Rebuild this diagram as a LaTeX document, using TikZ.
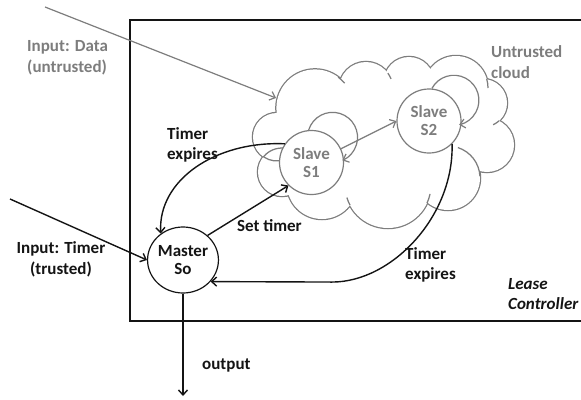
\documentclass[tikz,border=0pt]{standalone}
\usepackage{fontspec}
\setmainfont{Carlito}
\usetikzlibrary{shapes.geometric,arrows.meta}
\definecolor{cgray}{RGB}{125,125,125}
\definecolor{ink}{RGB}{20,20,20}
\begin{document}
\begin{tikzpicture}[x=1pt,y=-1pt,
  lbl/.style={font=\fontsize{17}{20.5}\selectfont\bfseries, inner sep=0pt, align=left, anchor=west, text=ink},
  glbl/.style={lbl, text=cgray},
  state/.style={circle, draw=cgray, fill=white, line width=1.2pt, text=cgray,
    minimum size=64pt, inner sep=0pt, align=center, font=\fontsize{17}{18}\selectfont\bfseries},
  master/.style={ellipse, draw=ink, fill=white, line width=1.2pt, text=ink,
    minimum width=58pt, minimum height=66pt, inner sep=0pt, align=center, font=\fontsize{17}{18}\selectfont\bfseries},
  puffline/.style={draw=cgray, line width=2.5pt},
  hook/.style={draw=cgray, line width=1.25pt},
  blk/.style={draw=ink, line width=1.4pt, -{Straight Barb[length=5pt,width=9pt]}},
  gry/.style={draw=cgray, line width=1.2pt, -{Straight Barb[length=5pt,width=9pt]}}
]
\useasboundingbox (0,0) rectangle (581,399);
% lease controller box
\draw[ink, line width=1.6pt] (590,20) -- (130,20) -- (130,321) -- (590,321);
% cloud: union of puffs
\def\puffs{315/108/38.6, 366/89/27, 409/82/25, 456/88/32, 483/103/24, 487/145/27,
  448/178/32, 388/185/43, 322/184/35, 282/172/24, 277/137/24}
\foreach \cx/\cy/\r in \puffs { \path[puffline] (\cx,\cy) circle[radius=\r]; }
\foreach \cx/\cy/\r in \puffs { \fill[white] (\cx,\cy) circle[radius=\r]; }
\fill[white] (315,108) -- (366,89) -- (409,82) -- (456,88) -- (483,103) -- (487,145)
  -- (448,178) -- (388,185) -- (322,184) -- (282,172) -- (277,137) -- cycle;
% inner arcs of the cloud
\draw[hook] (315,108) ++(-53:38.6) arc[start angle=-53, end angle=-40, radius=38.6];
\draw[hook] (366,89) ++(-36:27) arc[start angle=-36, end angle=-22, radius=27];
\draw[hook] (456,88) ++(-16:32) arc[start angle=-16, end angle=0, radius=32];
\draw[hook] (483,103) ++(48:24) arc[start angle=48, end angle=65, radius=24];
\draw[hook] (448,178) ++(-72:32) arc[start angle=-72, end angle=-3, radius=32];
\draw[hook] (388,185) ++(12:43) arc[start angle=12, end angle=25, radius=43];
\draw[hook] (388,185) ++(152:43) arc[start angle=152, end angle=163, radius=43];
\draw[hook] (277,137) ++(124:24) arc[start angle=124, end angle=70, radius=24];
\draw[hook] (282,172) ++(219:24) arc[start angle=219, end angle=290, radius=24];
% states
\node[state] (s1) at (311.5,162.5) {Slave\\S1};
\node[state] (s2) at (429,121) {Slave\\S2};
\node[master] (m) at (183,260) {Master\\So};
% free ends
\coordinate (dstart) at (45,7);
\coordinate (dend) at (276,98);
\coordinate (tstart) at (10,199);
\coordinate (oend) at (183,396);
% connectors
\draw[gry] (dstart) -- (dend);
\draw[blk] (tstart) -- (m.west);
\draw[blk] (m.south) -- (oend);
\draw[blk] (m.45) -- (s1.225);
\draw[blk] (s1.145) .. controls +(-70,-3) and +(-3,-53) .. (m.130);
\draw[blk] (s2.315) .. controls +(2,72) and +(60,0) .. ++(-120,138) -- (m.-38);
\draw[gry] (s1.25) -- (s2.180);
\draw[gry] (s1.95) arc[start angle=197, end angle=427, radius=25];
\draw[gry] (s2.85) arc[start angle=208, end angle=438, radius=25];
% labels
\node[glbl] (ldata) at (27,58) {Input: Data\\(untrusted)};
\node[glbl] (lcloud) at (491,62) {Untrusted\\cloud};
\node[lbl] (lexp1) at (167,145) {Timer\\expires};
\node[lbl] (lset) at (237,226) {Set timer};
\node[lbl] (lexp2) at (405,265) {Timer\\expires};
\node[lbl, font=\fontsize{17}{20.5}\selectfont\bfseries\itshape] (llease) at (508,294) {Lease\\Controller};
\node[lbl, align=center, anchor=center] (ltimer) at (61,259.5) {Input: Timer\\(trusted)};
\node[lbl] (lout) at (202,365) {output};
\end{tikzpicture}
\end{document}
